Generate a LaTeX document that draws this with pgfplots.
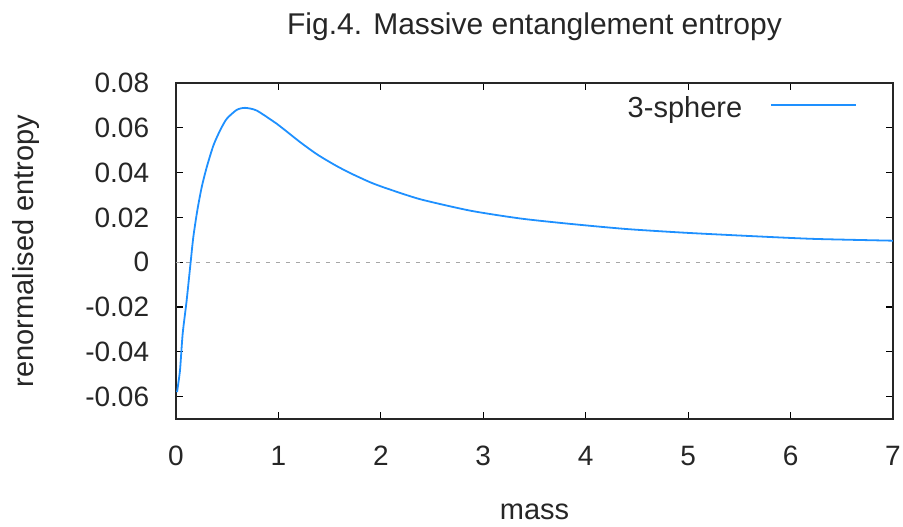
\documentclass[border=0pt]{standalone}
\usepackage{fontspec}
\setmainfont{Liberation Sans}
\usepackage{pgfplots}
\pgfplotsset{compat=1.18}
\definecolor{curve}{RGB}{30,144,255}
\begin{document}
\fontsize{29pt}{35pt}\selectfont
\begin{tikzpicture}[x=1pt,y=1pt]
\path[use as bounding box] (0,0) rectangle (903,527);
\begin{axis}[
  at={(176pt,108pt)}, anchor=south west,
  scale only axis, width=717pt, height=336pt,
  xmin=0, xmax=7, ymin=-0.07, ymax=0.08,
  xtick={0,1,2,3,4,5,6,7},
  xticklabels={0,1,2,3,4,5,6,7},
  ytick={-0.06,-0.04,-0.02,0,0.02,0.04,0.06,0.08},
  yticklabels={-0.06,-0.04,-0.02,0,0.02,0.04,0.06,0.08},
  scaled y ticks=false,
  tick align=inside, major tick length=7pt,
  tick style={black, line width=1.2pt},
  axis line style={line width=1.5pt, black!85},
  every tick label/.append style={font=\fontsize{28pt}{34pt}\selectfont, text=black!85},
  xticklabel style={yshift=-17pt},
  yticklabel style={xshift=-17pt},
  xlabel={mass}, ylabel={renormalised entropy},
  label style={font=\fontsize{29pt}{35pt}\selectfont, text=black!85},
  xlabel style={yshift=-19pt},
  ylabel style={yshift=26pt},
  title={Fig.4. Massive entanglement entropy},
  title style={font=\fontsize{30pt}{36pt}\selectfont, text=black!85, yshift=26pt},
  legend plot pos=right,
  legend image code/.code={\path (0pt,0pt) (113pt,14pt); \draw[#1] (28pt,4.5pt) -- (113pt,4.5pt);},
  legend style={draw=none, fill=none, inner sep=0pt, outer sep=0pt,
    nodes={inner sep=0pt, outer sep=0pt},
    font=\fontsize{29pt}{35pt}\selectfont, text=black!85,
    at={(0.9498,0.965)}, anchor=north east},
]
\addplot[gray!70, line width=1.2pt, dash pattern=on 4pt off 6pt, forget plot] coordinates {(0,0) (7,0)};
\addplot[curve, line width=1.8pt, smooth, tension=0.4] coordinates {
(0.010,-0.0580)
(0.039,-0.0483)
(0.065,-0.0320)
(0.104,-0.0171)
(0.143,0.0000)
(0.169,0.0112)
(0.208,0.0231)
(0.251,0.0335)
(0.300,0.0424)
(0.365,0.0521)
(0.430,0.0588)
(0.495,0.0640)
(0.593,0.0680)
(0.674,0.0689)
(0.788,0.0677)
(0.984,0.0618)
(1.049,0.0595)
(1.212,0.0536)
(1.375,0.0482)
(1.550,0.0434)
(1.700,0.0398)
(1.900,0.0356)
(2.060,0.0329)
(2.385,0.0281)
(2.874,0.0230)
(3.363,0.0195)
(3.850,0.0171)
(4.400,0.0148)
(4.990,0.0131)
(5.640,0.0116)
(6.230,0.0104)
(7.000,0.0096)
};
\addlegendentry{3-sphere}
\end{axis}
\end{tikzpicture}
\end{document}
